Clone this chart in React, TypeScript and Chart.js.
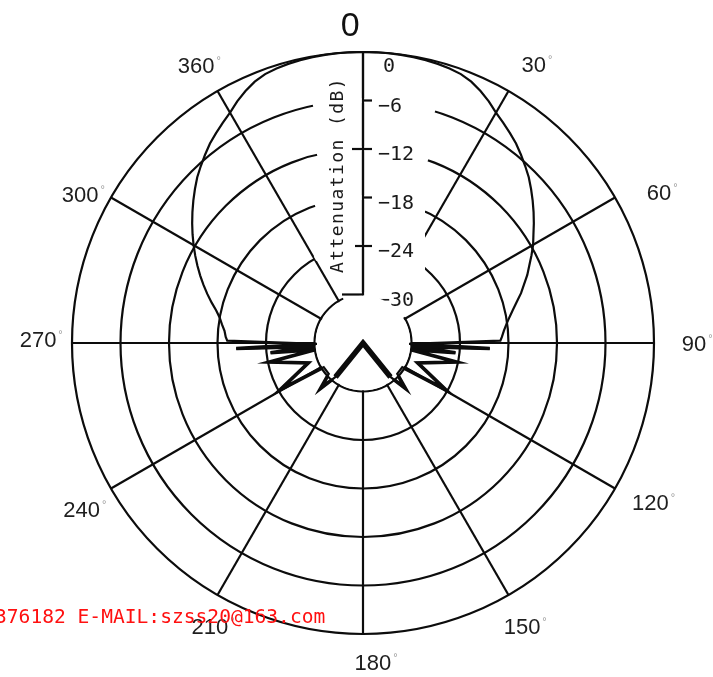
import { useEffect, useRef } from "react";
import { Chart, registerables } from "chart.js";

Chart.register(...registerables);

// ---- data ----
const ANGLE_LABELS = ["0", "30", "60", "90", "120", "150", "180", "210", "240", "270", "300", "360"];
const DB_TICKS = [0, -6, -12, -18, -24, -30];
const DB_MIN = -36;
const DB_MAX = 0;
const ANGLE_STEP = 0.5;
const ANGLE_CATEGORIES = Array.from({ length: 720 }, (_, i) => String(i * ANGLE_STEP));

// polar pattern: angle (deg, clockwise from 0) and attenuation (dB)
const PATTERN_ANGLES = [
  0, 2.5, 5, 7.5, 10, 12.5, 15, 17.5, 20, 22.5, 25, 27.5, 30, 32.5, 35, 37.5, 40, 42.5, 45, 47.5,
  50, 52.5, 55, 57.5, 60, 62.5, 65, 67.5, 70, 72.5, 75, 77.5, 80, 82.5, 85, 87.5, 89,
  91, 92.5, 94, 96, 98, 101.5, 110, 119.5, 121.5, 132, 137, 141,
  180,
  219, 223, 228, 238.5, 240.5, 250, 258.5, 262, 264, 266, 267.5, 269,
  271, 272.5, 275, 277.5, 280, 282.5, 285, 287.5, 290, 292.5, 295, 297.5, 300, 302.5, 305, 307.5, 310,
  312.5, 315, 317.5, 320, 322.5, 325, 327.5, 330, 332.5, 335, 337.5, 340, 342.5, 345, 347.5, 350, 352.5, 355, 357.5,
];
const PATTERN_DB = [
  0, 0, -0.02, -0.05, -0.1, -0.15, -0.25, -0.4, -0.6, -1.0, -1.6, -2.3, -3.1, -3.7, -4.3, -4.9, -5.6, -6.3, -7.0, -7.8,
  -8.6, -9.4, -10.2, -11.0, -11.7, -12.5, -13.3, -14.0, -14.8, -15.5, -16.3, -17.0, -17.6, -18.1, -18.5, -18.8, -19.0,
  -30.3, -20.3, -30.0, -24.5, -30.0, -24.2, -28.8, -24.2, -30.3, -30.3, -28.3, -30.6,
  -36,
  -30.6, -28.3, -30.3, -30.3, -24.2, -28.8, -24.2, -30.0, -24.5, -30.0, -20.3, -30.3,
  -19.2, -19.0, -18.8, -18.4, -18.0, -17.4, -16.6, -15.8, -15.0, -14.2, -13.4, -12.6, -11.8, -11.0, -10.2, -9.4, -8.6,
  -7.8, -7.0, -6.3, -5.6, -4.9, -4.3, -3.7, -3.1, -2.3, -1.6, -1.0, -0.6, -0.4, -0.25, -0.15, -0.1, -0.05, -0.02, 0,
];

// rear null at 180 (drawn heavier in the reference)
const NULL_ANGLES = [0, 141, 180, 219];
const NULL_DB = [-36, -30.6, -36, -30.6];

const AXIS_TITLE = "Attenuation (dB)";
const WATERMARK = "376182 E-MAIL:szss20@163.com";

const N = ANGLE_CATEGORIES.length;
function toSeries(angles: number[], values: number[]) {
  const out: (number | null)[] = ANGLE_CATEGORIES.map(() => null);
  angles.forEach((a, i) => {
    out[Math.round(a / ANGLE_STEP) % N] = values[i];
  });
  return out;
}
const patternSeries = toSeries(PATTERN_ANGLES, PATTERN_DB);
const nullSeries = toSeries(NULL_ANGLES, NULL_DB);
// rear lobes (90°..270°) of the same pattern, stroked heavier
const rearIdx = PATTERN_ANGLES.map((a, i) => (a > 90 && a < 270 ? i : -1)).filter((i) => i >= 0);
const rearSeries = toSeries(
  rearIdx.map((i) => PATTERN_ANGLES[i]),
  rearIdx.map((i) => PATTERN_DB[i])
);

const INK = "#0c0c0c";

// label placement (angle in degrees, distance beyond the outer ring)
const LABEL_POS: [number, number][] = [
  [357.7, 26], [32.1, 36], [63.5, 43], [90.3, 43], [119.0, 41], [150.4, 37],
  [177.7, 30], [207.8, 31], [238.9, 34], [270.4, 31], [297.7, 25], [329.3, 30],
];

const overlayPlugin = {
  id: "overlay",
  beforeDatasetsDraw(chart: any) {
    const s = chart.scales.r;
    const ctx = chart.ctx as CanvasRenderingContext2D;
    const cx = s.xCenter;
    const cy = s.yCenter;
    const R = (v: number) => s.getDistanceFromCenterForValue(v);
    const r30 = R(-30);
    const r0 = R(0);
    const deg = Math.PI / 180;
    ctx.save();

    // ring gaps around the axis title and tick labels
    ctx.strokeStyle = "#fff";
    ctx.lineWidth = 5;
    const gaps: [number, number, number][] = [
      [-6, 50, 72],
      [-12, 46, 65],
      [-18, 48, 62],
      [-24, 48, 59],
    ];
    for (const [v, l, rg] of gaps) {
      const r = R(v);
      ctx.beginPath();
      ctx.arc(cx, cy, r, -Math.PI / 2 - Math.asin(l / r), -Math.PI / 2 + Math.asin(rg / r));
      ctx.stroke();
    }
    ctx.beginPath();
    ctx.arc(cx, cy, r30, -Math.PI / 2 - 24 * deg, -Math.PI / 2 + 58 * deg);
    ctx.stroke();
    ctx.fillStyle = "#fff";
    ctx.fillRect(cx + 8, cy - (r0 - 10), 54, r0 - 10 - 38);

    // vertical axis
    ctx.strokeStyle = INK;
    ctx.lineWidth = 2.2;
    ctx.beginPath();
    ctx.moveTo(cx, cy - r30 + 1);
    ctx.lineTo(cx, cy - r0);
    ctx.stroke();

    // tick marks
    const marks: Record<string, [number, number]> = {
      "-6": [0, 9],
      "-12": [-11, 9],
      "-18": [0, 9],
      "-24": [-8, 9],
      "-30": [-21, 0],
    };
    for (const v of DB_TICKS) {
      const m = marks[String(v)];
      if (!m) continue;
      const y = cy - R(v);
      ctx.beginPath();
      ctx.moveTo(cx + m[0], y);
      ctx.lineTo(cx + m[1], y);
      ctx.stroke();
    }

    // tick labels
    ctx.fillStyle = "#1a1a1a";
    ctx.font = "20px 'DejaVu Sans Mono'";
    ctx.textAlign = "left";
    ctx.textBaseline = "middle";
    for (const v of DB_TICKS) {
      const y = cy - R(v);
      if (v === 0) ctx.fillText("0", cx + 20, y + 15);
      else ctx.fillText("\u2212" + String(-v), cx + 15, y + 6);
    }

    // axis title
    ctx.save();
    ctx.translate(cx - 25, cy - 168);
    ctx.rotate(-Math.PI / 2);
    ctx.font = "18px 'DejaVu Sans Mono'";
    (ctx as any).letterSpacing = "1.4px";
    ctx.textAlign = "center";
    ctx.textBaseline = "middle";
    ctx.fillStyle = "#1a1a1a";
    ctx.fillText(AXIS_TITLE, 0, 0);
    ctx.restore();

    // angle labels
    ANGLE_LABELS.forEach((lab, i) => {
      const [ang, gap] = LABEL_POS[i];
      const p = s.getPointPosition(ang / ANGLE_STEP, r0 + gap);
      if (i === 0) {
        ctx.font = "34px 'Liberation Sans'";
        ctx.textAlign = "center";
        ctx.textBaseline = "middle";
        ctx.fillStyle = "#111";
        ctx.fillText(lab, p.x, p.y);
        return;
      }
      ctx.font = "22px 'Liberation Sans'";
      const w = ctx.measureText(lab).width;
      ctx.textAlign = "left";
      ctx.textBaseline = "middle";
      ctx.fillStyle = "#1e1e1e";
      const x0 = p.x - (w + 6) / 2;
      ctx.fillText(lab, x0, p.y);
      ctx.font = "11px 'Liberation Sans'";
      ctx.fillStyle = "#9a9a9a";
      ctx.fillText("\u00b0", x0 + w + 2, p.y - 6);
    });
    ctx.restore();
  },
  beforeDatasetDraw(chart: any, args: any) {
    // white centre disk, painted over the heavy rear strokes but under the null and main curve
    if (args.index !== 1) return;
    const s = chart.scales.r;
    const ctx = chart.ctx as CanvasRenderingContext2D;
    const r30 = s.getDistanceFromCenterForValue(-30);
    ctx.save();
    ctx.fillStyle = "#fff";
    ctx.beginPath();
    ctx.arc(s.xCenter, s.yCenter, r30 - 1.2, 0, Math.PI * 2);
    ctx.fill();
    ctx.restore();
  },
  afterDraw(chart: any) {
    const ctx = chart.ctx as CanvasRenderingContext2D;
    ctx.save();
    ctx.font = "19.6px 'DejaVu Sans Mono'";
    ctx.fillStyle = "#ff1010";
    ctx.textAlign = "left";
    ctx.textBaseline = "alphabetic";
    ctx.fillText(WATERMARK, -5, 623);
    ctx.restore();
  },
};

const lineStyle = {
  spanGaps: true,
  borderColor: INK,
  backgroundColor: "rgba(0,0,0,0)",
  fill: false,
  pointRadius: 0,
  pointHoverRadius: 0,
  tension: 0,
  borderJoinStyle: "miter",
};

export default function App() {
  const ref = useRef<HTMLCanvasElement | null>(null);
  useEffect(() => {
    if (!ref.current) return;
    const chart = new Chart(ref.current, {
      type: "radar",
      data: {
        labels: ANGLE_CATEGORIES,
        datasets: [
          { ...lineStyle, data: patternSeries, borderWidth: 2.2 } as any,
          { ...lineStyle, data: nullSeries, borderWidth: 5.5 } as any,
          { ...lineStyle, data: rearSeries, borderWidth: 3.6 } as any,
        ],
      },
      options: {
        responsive: false,
        animation: false,
        events: [],
        layout: { padding: { left: 72, right: 59, top: 52, bottom: 43 } },
        plugins: { legend: { display: false }, tooltip: { enabled: false } },
        scales: {
          r: {
            min: DB_MIN,
            max: DB_MAX,
            startAngle: 0,
            ticks: { display: false, stepSize: 6 },
            pointLabels: { display: false },
            grid: { circular: true, color: INK, lineWidth: 2.2 },
            angleLines: {
              display: true,
              color: INK,
              lineWidth: (c: any) => (c.index % 60 === 0 ? 2.2 : 0),
            },
          },
        },
      } as any,
      plugins: [overlayPlugin],
    });
    return () => chart.destroy();
  }, []);
  return (
    <canvas
      ref={ref}
      width={713}
      height={677}
      style={{ display: "block", position: "fixed", left: 0, top: 0 }}
    />
  );
}
